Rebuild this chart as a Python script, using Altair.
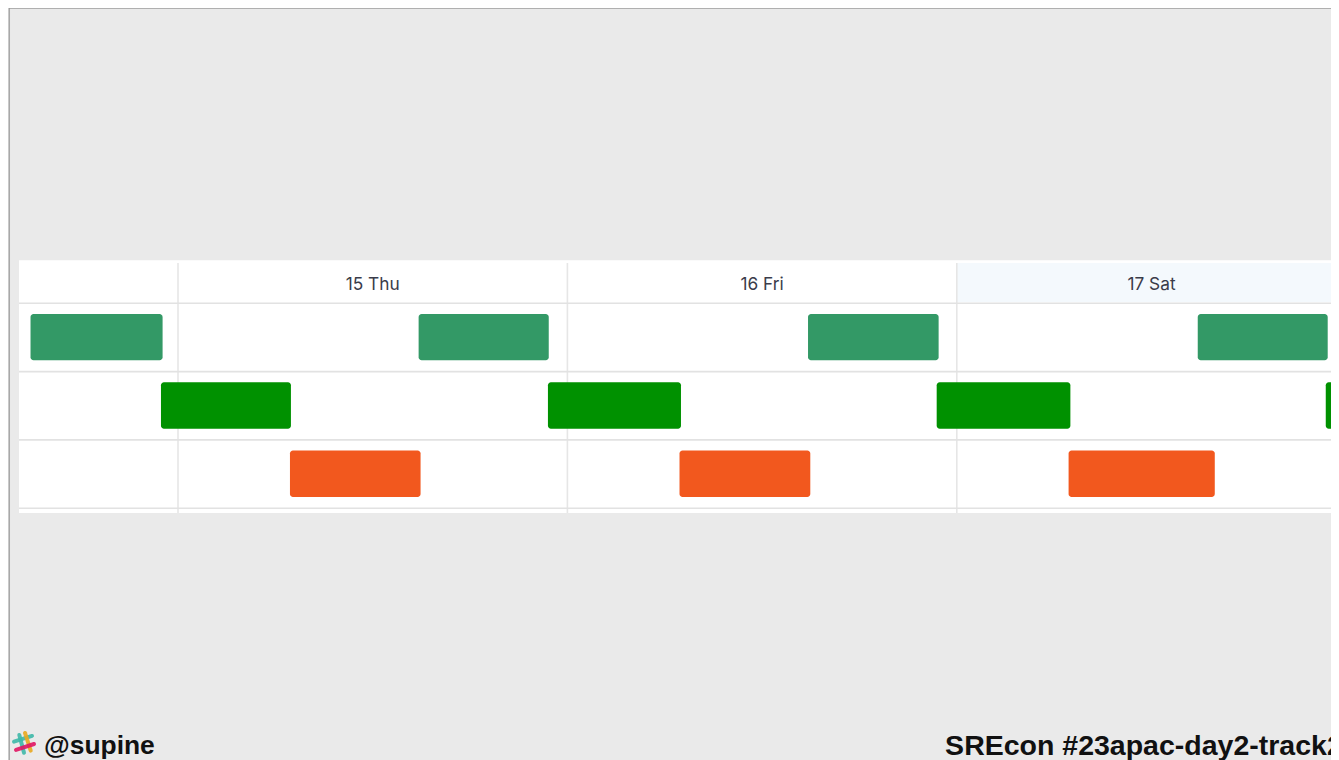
import altair as alt
import pandas as pd

X_DOMAIN = [-10.478, 71.063]
Y_DOMAIN = [-4.324, 6.687]

day_labels = ["15 Thu", "16 Fri", "17 Sat"]
day_starts = [0, 24, 48]
day_mids = [12, 36, 60]

row1_start = [-9.09, 14.83, 38.83, 62.85]
row1_end = [-0.95, 22.85, 46.88, 70.86]
row2_start = [-1.05, 22.80, 46.76, 70.74]
row2_end = [6.96, 31.0, 55.0, 79.0]
row3_start = [6.90, 30.91, 54.89]
row3_end = [14.95, 38.97, 63.9]

row_lines = [0, 1, 2, 3]

x_enc = lambda f: alt.X(f, type="quantitative", axis=None, scale=alt.Scale(domain=X_DOMAIN, nice=False, zero=False))
y_enc = lambda f: alt.Y(f, type="quantitative", axis=None, scale=alt.Scale(domain=Y_DOMAIN, nice=False, zero=False, reverse=True))

bars = pd.DataFrame(
    [dict(x=a, x2=b, y=0.155, y2=0.835, c="#339966") for a, b in zip(row1_start, row1_end)]
    + [dict(x=a, x2=b, y=1.155, y2=1.835, c="#009100") for a, b in zip(row2_start, row2_end)]
    + [dict(x=a, x2=b, y=2.155, y2=2.835, c="#f2581e") for a, b in zip(row3_start, row3_end)]
)

panel = alt.Chart(pd.DataFrame(dict(x=[-9.8], x2=[X_DOMAIN[1]], y=[-0.63], y2=[3.07]))).mark_rect(color="#ffffff").encode(
    x=x_enc("x"), x2="x2", y=y_enc("y"), y2="y2")
tint = alt.Chart(pd.DataFrame(dict(x=[48], x2=[X_DOMAIN[1]], y=[-0.59], y2=[-0.02]))).mark_rect(color="#f4f9fd").encode(
    x=x_enc("x"), x2="x2", y=y_enc("y"), y2="y2")
vlines = alt.Chart(pd.DataFrame(dict(x=day_starts, y=[-0.59] * 3, y2=[3.07] * 3))).mark_rule(color="#e6e6e6", strokeWidth=1.6).encode(
    x=x_enc("x"), y=y_enc("y"), y2="y2")
hlines = alt.Chart(pd.DataFrame(dict(x=[-9.8] * 4, x2=[X_DOMAIN[1]] * 4, y=row_lines))).mark_rule(color="#e2e2e2", strokeWidth=1.6).encode(
    x=x_enc("x"), x2="x2", y=y_enc("y"))
bar_layer = alt.Chart(bars).mark_rect(cornerRadius=3, clip=True).encode(
    x=x_enc("x"), x2="x2", y=y_enc("y"), y2="y2", color=alt.Color("c:N", scale=None))
labels = alt.Chart(pd.DataFrame(dict(x=day_mids, y=[-0.265] * 3, t=day_labels))).mark_text(
    font="Inter", fontSize=17.3, color="#3a3c4a", align="center", baseline="middle").encode(
    x=x_enc("x"), y=y_enc("y"), text="t:N")

border_left = alt.Chart(pd.DataFrame(dict(x=[-10.4], y=[Y_DOMAIN[0]], y2=[Y_DOMAIN[1]]))).mark_rule(color="#a8a8a8", strokeWidth=1.5).encode(
    x=x_enc("x"), y=y_enc("y"), y2="y2")
border_top = alt.Chart(pd.DataFrame(dict(x=[-10.4], x2=[X_DOMAIN[1]], y=[-4.322]))).mark_rule(color="#8c8c8c", strokeWidth=1).encode(
    x=x_enc("x"), x2="x2", y=y_enc("y"))

logo = pd.DataFrame([
    dict(g="a", o=0, x=-10.108, y=6.419, c="#3eb8a8"), dict(g="a", o=1, x=-8.998, y=6.335, c="#3eb8a8"),
    dict(g="b", o=0, x=-9.781, y=6.321, c="#3eb8a8"), dict(g="b", o=1, x=-9.492, y=6.580, c="#3eb8a8"),
    dict(g="c", o=0, x=-9.430, y=6.291, c="#e9a820"), dict(g="c", o=1, x=-9.078, y=6.550, c="#e9a820"),
    dict(g="d", o=0, x=-9.985, y=6.540, c="#e01563"), dict(g="d", o=1, x=-8.875, y=6.453, c="#e01563"),
])
logo_layer = alt.Chart(logo).mark_line(strokeWidth=4, strokeCap="round", opacity=0.9).encode(
    x=x_enc("x"), y=y_enc("y"), detail="g:N", order="o:Q", color=alt.Color("c:N", scale=None))

footer_left = alt.Chart(pd.DataFrame(dict(x=[-8.26], y=[6.485], t=["@supine"]))).mark_text(
    font="Liberation Sans", fontSize=26.4, fontWeight="bold", color="#111111", align="left", baseline="middle", clip=True).encode(
    x=x_enc("x"), y=y_enc("y"), text="t:N")
footer_right = alt.Chart(pd.DataFrame(dict(x=[47.28], y=[6.485], t=["SREcon #23apac-day2-track2"]))).mark_text(
    font="Liberation Sans", fontSize=28.5, fontWeight="bold", color="#111111", align="left", baseline="middle", clip=True).encode(
    x=x_enc("x"), y=y_enc("y"), text="t:N")

chart = alt.layer(panel, tint, vlines, hlines, bar_layer, labels, border_left, border_top, logo_layer, footer_left, footer_right).properties(
    width=1323, height=752, background="#eaeaea", padding=0, autosize=alt.AutoSizeParams(type="none"),
).configure_view(stroke=None)

chart.save("out.html", embed_options={"renderer": "svg", "actions": False})
